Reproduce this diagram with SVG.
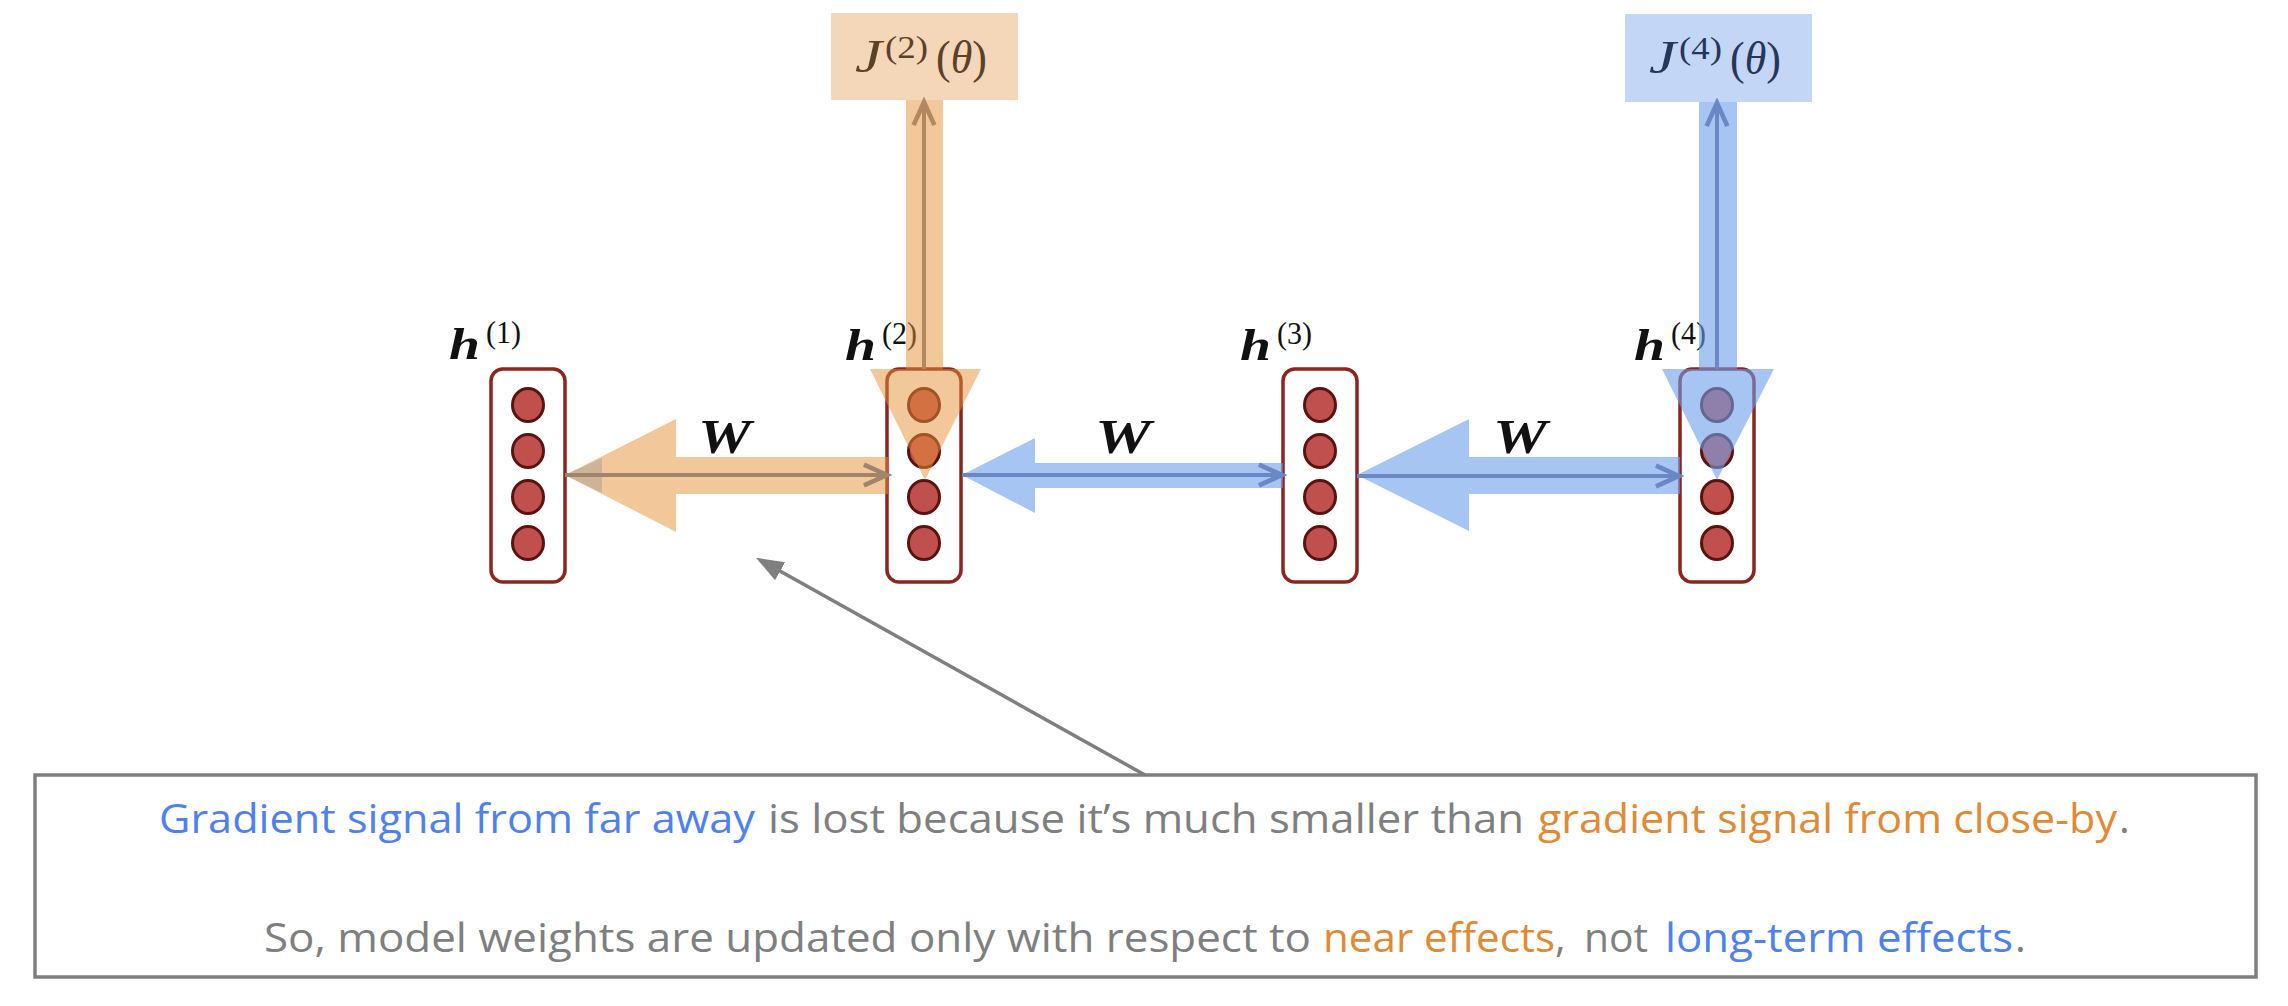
<svg xmlns="http://www.w3.org/2000/svg" width="2288" height="1006" viewBox="0 0 2288 1006">
<style>
.box{fill:#ffffff;stroke:#8b2520;stroke-width:3.5}
.unit{fill:#c0504d;stroke:#5a1410;stroke-width:3}
.hl{font-family:"Liberation Serif",serif;font-weight:bold;font-style:italic;font-size:44px;fill:#111}
.sup{font-family:"Liberation Serif",serif;font-size:32px;fill:#111}
.w{font-family:"Liberation Serif",serif;font-weight:bold;font-style:italic;font-size:48px;fill:#111}
.jt{font-family:"Liberation Serif",serif;font-size:46px}
.org{fill:#e69138;fill-opacity:0.5}
.blu{fill:#6d9eeb;fill-opacity:0.6}
.thin{fill:none;stroke-width:4}
.txt{font-family:"Open Sans","Noto Sans",sans-serif;font-size:41px}
.g{fill:#7f7f7f}.b{fill:#4f81ee}.o{fill:#e08a35}
</style>
<defs>
<marker id="chevO" markerUnits="userSpaceOnUse" markerWidth="30" markerHeight="30" viewBox="-2 -12 26 24" refX="20" refY="0" orient="auto"><path d="M0,-9 L20,0 L0,9" fill="none" stroke="#a0846c" stroke-width="4"/></marker>
<marker id="chevOV" markerUnits="userSpaceOnUse" markerWidth="30" markerHeight="30" viewBox="-2 -12 26 24" refX="20" refY="0" orient="auto"><path d="M0,-9 L20,0 L0,9" fill="none" stroke="#b0895e" stroke-width="4"/></marker>
<marker id="chevB" markerUnits="userSpaceOnUse" markerWidth="30" markerHeight="30" viewBox="-2 -12 26 24" refX="20" refY="0" orient="auto"><path d="M0,-9 L20,0 L0,9" fill="none" stroke="#6b87c4" stroke-width="4"/></marker>
<marker id="headG" markerUnits="userSpaceOnUse" markerWidth="30" markerHeight="30" viewBox="0 -12 26 24" refX="20" refY="0" orient="auto"><path d="M0,-9 L24,0 L0,9 Z" fill="#7f7f7f"/></marker>
</defs>

<g id="J2">
<rect x="831" y="13" width="187" height="87" fill="#f4d6b8"/>
<text class="jt" fill="#5a4128" y="72"><tspan x="855" font-style="italic" textLength="27" lengthAdjust="spacingAndGlyphs">J</tspan><tspan x="885" y="58" font-size="32" textLength="43" lengthAdjust="spacingAndGlyphs">(2)</tspan><tspan x="936" y="73" textLength="51" lengthAdjust="spacingAndGlyphs">(<tspan font-style="italic">θ</tspan>)</tspan></text>
</g>
<g id="J4">
<rect x="1625" y="14" width="187" height="88" fill="#c4d6f6"/>
<text class="jt" fill="#26365a" y="73"><tspan x="1649" font-style="italic" textLength="27" lengthAdjust="spacingAndGlyphs">J</tspan><tspan x="1679" y="59" font-size="32" textLength="43" lengthAdjust="spacingAndGlyphs">(4)</tspan><tspan x="1730" y="74" textLength="51" lengthAdjust="spacingAndGlyphs">(<tspan font-style="italic">θ</tspan>)</tspan></text>
</g>

<g id="h1">
<text class="hl" x="449" y="359" textLength="31" lengthAdjust="spacingAndGlyphs">h</text><text class="sup" x="486" y="343" textLength="35" lengthAdjust="spacingAndGlyphs">(1)</text>
<rect class="box" x="491" y="369" width="74" height="213" rx="12"/>
<ellipse class="unit" cx="528" cy="405" rx="15.5" ry="16.5"/>
<ellipse class="unit" cx="528" cy="451" rx="15.5" ry="16.5"/>
<ellipse class="unit" cx="528" cy="497" rx="15.5" ry="16.5"/>
<ellipse class="unit" cx="528" cy="543" rx="15.5" ry="16.5"/>
</g>
<g id="h2">
<text class="hl" x="845" y="360" textLength="31" lengthAdjust="spacingAndGlyphs">h</text><text class="sup" x="882" y="344" textLength="35" lengthAdjust="spacingAndGlyphs">(2)</text>
<rect class="box" x="887" y="369" width="74" height="213" rx="12"/>
<ellipse class="unit" cx="924" cy="405" rx="15.5" ry="16.5"/>
<ellipse class="unit" cx="924" cy="451" rx="15.5" ry="16.5"/>
<ellipse class="unit" cx="924" cy="497" rx="15.5" ry="16.5"/>
<ellipse class="unit" cx="924" cy="543" rx="15.5" ry="16.5"/>
</g>
<g id="h3">
<text class="hl" x="1240" y="360" textLength="31" lengthAdjust="spacingAndGlyphs">h</text><text class="sup" x="1277" y="344" textLength="35" lengthAdjust="spacingAndGlyphs">(3)</text>
<rect class="box" x="1283" y="369" width="74" height="213" rx="12"/>
<ellipse class="unit" cx="1320" cy="405" rx="15.5" ry="16.5"/>
<ellipse class="unit" cx="1320" cy="451" rx="15.5" ry="16.5"/>
<ellipse class="unit" cx="1320" cy="497" rx="15.5" ry="16.5"/>
<ellipse class="unit" cx="1320" cy="543" rx="15.5" ry="16.5"/>
</g>
<g id="h4">
<text class="hl" x="1634" y="360" textLength="31" lengthAdjust="spacingAndGlyphs">h</text><text class="sup" x="1671" y="344" textLength="35" lengthAdjust="spacingAndGlyphs">(4)</text>
<rect class="box" x="1680" y="369" width="74" height="213" rx="12"/>
<ellipse class="unit" cx="1717" cy="405" rx="15.5" ry="16.5"/>
<ellipse class="unit" cx="1717" cy="451" rx="15.5" ry="16.5"/>
<ellipse class="unit" cx="1717" cy="497" rx="15.5" ry="16.5"/>
<ellipse class="unit" cx="1717" cy="543" rx="15.5" ry="16.5"/>
</g>

<g id="connectors">
<path class="org" d="M565,475 L676,419 L676,457 L888,457 L888,494 L676,494 L676,532 Z"/>
<path class="org" d="M906,100 L943,100 L943,369 L981,369 L925,480 L870,369 L906,369 Z"/>
<path class="blu" d="M962,475 L1035,438 L1035,463 L1283,463 L1283,488 L1035,488 L1035,513 Z"/>
<path class="blu" d="M1357,475 L1469,419 L1469,457 L1680,457 L1680,494 L1469,494 L1469,531 Z"/>
<path class="blu" d="M1699,102 L1737,102 L1737,369 L1774,369 L1717,480 L1662,369 L1699,369 Z"/>
<path d="M565,475 L602,458 L602,493 Z" fill="#8c8c8c" fill-opacity="0.35"/>
<path class="thin" stroke="#a0846c" d="M565,475 H887" marker-end="url(#chevO)"/>
<path class="thin" stroke="#b0895e" d="M924,369 V102" marker-end="url(#chevOV)"/>
<path class="thin" stroke="#6b87c4" d="M962,475 H1282" marker-end="url(#chevB)"/>
<path class="thin" stroke="#6b87c4" d="M1357,476 H1679" marker-end="url(#chevB)"/>
<path class="thin" stroke="#6b87c4" d="M1717,369 V103" marker-end="url(#chevB)"/>
<path d="M1145,775 L760,560" fill="none" stroke="#7f7f7f" stroke-width="3.5" marker-end="url(#headG)"/>
</g>

<g id="W-labels">
<text class="w" x="698" y="453" textLength="53" lengthAdjust="spacingAndGlyphs">W</text>
<text class="w" x="1095" y="453" textLength="56" lengthAdjust="spacingAndGlyphs">W</text>
<text class="w" x="1493" y="453" textLength="54" lengthAdjust="spacingAndGlyphs">W</text>
</g>

<g id="note">
<rect x="35" y="775" width="2221" height="202" fill="#ffffff" stroke="#7f7f7f" stroke-width="3.5"/>
<text class="txt b" x="159" y="833" textLength="596" lengthAdjust="spacingAndGlyphs">Gradient signal from far away</text>
<text class="txt g" x="768" y="833" textLength="756" lengthAdjust="spacingAndGlyphs">is lost because it’s much smaller than</text>
<text class="txt o" x="1538" y="833" textLength="579" lengthAdjust="spacingAndGlyphs">gradient signal from close-by</text>
<text class="txt g" x="2119" y="833">.</text>
<text class="txt g" x="264" y="952" textLength="1047" lengthAdjust="spacingAndGlyphs">So, model weights are updated only with respect to</text>
<text class="txt o" x="1323" y="952" textLength="232" lengthAdjust="spacingAndGlyphs">near effects</text>
<text class="txt g" x="1555" y="952">,</text>
<text class="txt g" x="1584" y="952" textLength="64" lengthAdjust="spacingAndGlyphs">not</text>
<text class="txt b" x="1665" y="952" textLength="348" lengthAdjust="spacingAndGlyphs">long-term effects</text>
<text class="txt g" x="2015" y="952">.</text>
</g>
</svg>
